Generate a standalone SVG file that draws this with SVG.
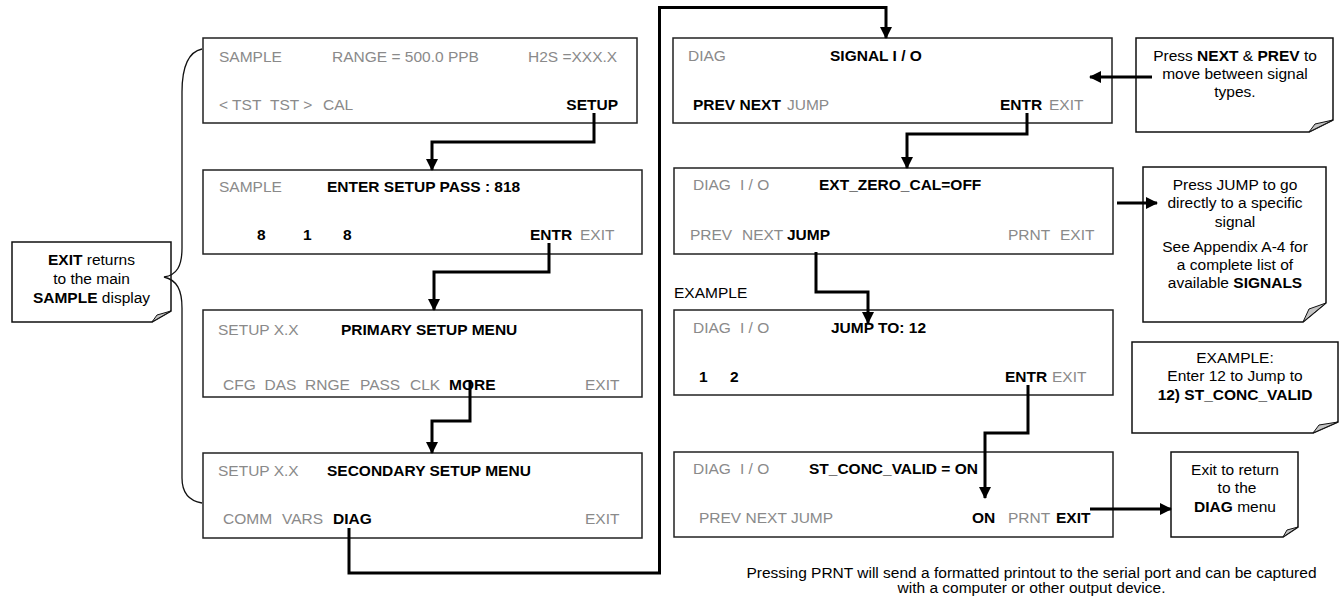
<svg xmlns="http://www.w3.org/2000/svg" width="1342" height="599" viewBox="0 0 1342 599">
<style>
text{font-family:"Liberation Sans",Arial,sans-serif;font-size:15.5px;fill:#000}
.g{fill:#8a8a8a}
.b{font-weight:bold}
.m{text-anchor:middle}
.e{text-anchor:end}
.box{fill:#fff;stroke:#222;stroke-width:1.5}
.note{fill:#fff;stroke:#111;stroke-width:1.5}
.fold{fill:#c4c4c4;stroke:#111;stroke-width:1}
.con{fill:none;stroke:#000;stroke-width:3}
.brace{fill:none;stroke:#111;stroke-width:1.3}
</style>
<defs>
<marker id="ah" markerUnits="userSpaceOnUse" markerWidth="12" markerHeight="12" refX="11" refY="6" orient="auto">
<path d="M0,0 L12,6 L0,12 z" fill="#000"/>
</marker>
</defs>
<rect width="1342" height="599" fill="#fff"/>

<g id="box1">
<rect class="box" x="203" y="38" width="434" height="85"/>
<text class="g" x="219" y="62">SAMPLE</text>
<text class="g" x="332" y="62">RANGE = 500.0 PPB</text>
<text class="g" x="528" y="62">H2S =XXX.X</text>
<text class="g" x="219" y="110">&lt; TST</text>
<text class="g" x="270" y="110">TST &gt;</text>
<text class="g" x="323" y="110">CAL</text>
<text class="b e" x="618" y="110">SETUP</text>
</g>

<g id="box2">
<rect class="box" x="203" y="170" width="439" height="84"/>
<text class="g" x="219" y="192">SAMPLE</text>
<text class="b" x="327" y="192">ENTER SETUP PASS : 818</text>
<text class="b" x="257" y="240">8</text>
<text class="b" x="303" y="240">1</text>
<text class="b" x="343" y="240">8</text>
<text class="b" x="530" y="240">ENTR</text>
<text class="g" x="580" y="240">EXIT</text>
</g>

<g id="box3">
<rect class="box" x="203" y="310" width="439" height="87"/>
<text class="g" x="218" y="335">SETUP X.X</text>
<text class="b" x="341" y="335">PRIMARY SETUP MENU</text>
<text class="g" x="223" y="390">CFG</text>
<text class="g" x="264.5" y="390">DAS</text>
<text class="g" x="305" y="390">RNGE</text>
<text class="g" x="360" y="390">PASS</text>
<text class="g" x="410" y="390">CLK</text>
<text class="b" x="449" y="390">MORE</text>
<text class="g" x="585" y="390">EXIT</text>
</g>

<g id="box4">
<rect class="box" x="203" y="453" width="439" height="85"/>
<text class="g" x="218" y="476">SETUP X.X</text>
<text class="b" x="327" y="476">SECONDARY SETUP MENU</text>
<text class="g" x="223" y="524">COMM</text>
<text class="g" x="282" y="524">VARS</text>
<text class="b" x="333" y="524">DIAG</text>
<text class="g" x="585" y="524">EXIT</text>
</g>

<g id="box6">
<rect class="box" x="673" y="38" width="439" height="85"/>
<text class="g" x="688" y="61">DIAG</text>
<text class="b" x="830" y="61">SIGNAL I / O</text>
<text class="b" x="693" y="110">PREV NEXT</text>
<text class="g" x="787" y="110">JUMP</text>
<text class="b" x="1000" y="110">ENTR</text>
<text class="g" x="1049" y="110">EXIT</text>
</g>

<g id="box7">
<rect class="box" x="674" y="168" width="439" height="86"/>
<text class="g" x="693" y="190">DIAG</text>
<text class="g" x="740" y="190">I / O</text>
<text class="b" x="819" y="190">EXT_ZERO_CAL=OFF</text>
<text class="g" x="690" y="240">PREV</text>
<text class="g" x="742" y="240">NEXT</text>
<text class="b" x="787" y="240">JUMP</text>
<text class="g" x="1008" y="240">PRNT</text>
<text class="g" x="1060" y="240">EXIT</text>
</g>

<g id="box8">
<text x="674" y="298">EXAMPLE</text>
<rect class="box" x="674" y="310" width="439" height="85"/>
<text class="g" x="693" y="333">DIAG</text>
<text class="g" x="740" y="333">I / O</text>
<text class="b" x="831" y="333">JUMP TO: 12</text>
<text class="b" x="699" y="382">1</text>
<text class="b" x="730" y="382">2</text>
<text class="b" x="1005" y="382">ENTR</text>
<text class="g" x="1052" y="382">EXIT</text>
</g>

<g id="box9">
<rect class="box" x="674" y="452" width="439" height="85"/>
<text class="g" x="693" y="474">DIAG</text>
<text class="g" x="740" y="474">I / O</text>
<text class="b" x="809" y="474">ST_CONC_VALID = ON</text>
<text class="g" x="699" y="523">PREV NEXT JUMP</text>
<text class="b" x="972" y="523">ON</text>
<text class="g" x="1008" y="523">PRNT</text>
<text class="b" x="1056" y="523">EXIT</text>
</g>

<g id="note-left">
<path class="note" d="M12,242 H171 V311 L152,322 H12 Z"/>
<path class="fold" d="M152,322 L171,311 L157,315 Z"/>
<text class="m" x="91.5" y="265"><tspan class="b">EXIT</tspan> returns</text>
<text class="m" x="91.5" y="284">to the main</text>
<text class="m" x="91.5" y="303"><tspan class="b">SAMPLE</tspan> display</text>
</g>

<g id="note1">
<path class="note" d="M1136,38 H1333 V120 L1309,132 H1136 Z"/>
<path class="fold" d="M1309,132 L1333,120 L1315,124 Z"/>
<text class="m" x="1235" y="61">Press <tspan class="b">NEXT</tspan> &amp; <tspan class="b">PREV</tspan> to</text>
<text class="m" x="1235" y="79">move between signal</text>
<text class="m" x="1235" y="97">types.</text>
</g>

<g id="note2">
<path class="note" d="M1143,167 H1326 V303 L1303,322 H1143 Z"/>
<path class="fold" d="M1303,322 L1326,303 L1309,309 Z"/>
<text class="m" x="1235" y="190">Press JUMP to go</text>
<text class="m" x="1235" y="208">directly to a specific</text>
<text class="m" x="1235" y="227">signal</text>
<text class="m" x="1235" y="252">See Appendix A-4 for</text>
<text class="m" x="1235" y="270">a complete list of</text>
<text class="m" x="1235" y="288">available <tspan class="b">SIGNALS</tspan></text>
</g>

<g id="note3">
<path class="note" d="M1132,342 H1338 V422 L1313,433 H1132 Z"/>
<path class="fold" d="M1313,433 L1338,422 L1319,425 Z"/>
<text class="m" x="1235" y="363">EXAMPLE:</text>
<text class="m" x="1235" y="381">Enter 12 to Jump to</text>
<text class="m b" x="1235" y="400">12) ST_CONC_VALID</text>
</g>

<g id="note4">
<path class="note" d="M1171,452 H1298 V527 L1283,537 H1171 Z"/>
<path class="fold" d="M1283,537 L1298,527 L1287,530 Z"/>
<text class="m" x="1235" y="475">Exit to return</text>
<text class="m" x="1237" y="493">to the</text>
<text class="m" x="1235" y="512"><tspan class="b">DIAG</tspan> menu</text>
</g>

<g id="footer">
<text class="m" x="1031.5" y="578">Pressing PRNT will send a formatted printout to the serial port and can be captured</text>
<text class="m" x="1031.5" y="593">with a computer or other output device.</text>
</g>

<g id="connectors">
<path class="brace" d="M202,49 C188,52 182,66 182,92 L182,248 C182,266 177,275 164,277 C177,280 182,290 182,308 L182,478 C182,494 190,501 202,503"/>
<path class="con" d="M594,113 V142 H432 V170" marker-end="url(#ah)"/>
<path class="con" d="M549,243 V272 H434 V310" marker-end="url(#ah)"/>
<path class="con" d="M470,380 V421 H432 V453" marker-end="url(#ah)"/>
<path class="con" d="M349,528 V573 H659.5 V7.5 H886 V38" marker-end="url(#ah)"/>
<path class="con" d="M1027,113 V134 H907 V168" marker-end="url(#ah)"/>
<path class="con" d="M816,252 V292 H868 V323" marker-end="url(#ah)"/>
<path class="con" d="M1028,385 V433 H985 V498" marker-end="url(#ah)"/>
<path class="con" d="M1090,509 H1171" marker-end="url(#ah)"/>
<path class="con" d="M1152,77 H1090" marker-end="url(#ah)"/>
<path class="con" d="M1117,203 H1157" marker-end="url(#ah)"/>
</g>
</svg>
